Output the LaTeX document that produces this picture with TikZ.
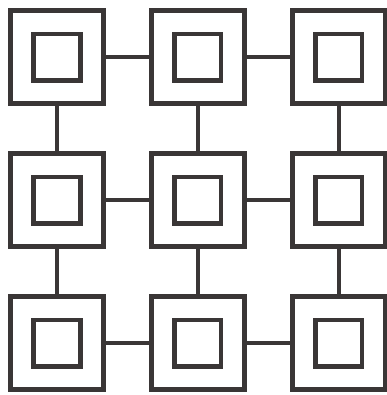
\documentclass[tikz,border=0pt]{standalone}
\usepackage{tikz}
\usetikzlibrary{positioning}

\definecolor{ink}{RGB}{58,54,54}

\begin{document}
\begin{tikzpicture}[
  x=0.25mm, y=-0.25mm,
  outerbox/.style={draw=ink, rectangle, line width=1.15mm, minimum size=23.25mm, inner sep=0pt},
  innerbox/.style={draw=ink, rectangle, line width=1.15mm, minimum size=11.6mm, inner sep=0pt},
  link/.style={draw=ink, line width=1.15mm}
]
\useasboundingbox (0,0) rectangle (387,395);

% Boxes
\foreach \c in {0,1,2} {
  \foreach \r in {0,1,2} {
    \node[outerbox] (cell-\c-\r) at (57+141*\c, 57+143*\r) {};
    \node[innerbox] (core-\c-\r) at (cell-\c-\r.center) {};
  }
}

% Horizontal links
\foreach \r in {0,1,2} {
  \draw[link] (cell-0-\r.east) -- (cell-1-\r.west);
  \draw[link] (cell-1-\r.east) -- (cell-2-\r.west);
}

% Vertical links
\foreach \c in {0,1,2} {
  \draw[link] (cell-\c-0.south) -- (cell-\c-1.north);
  \draw[link] (cell-\c-1.south) -- (cell-\c-2.north);
}
\end{tikzpicture}
\end{document}
